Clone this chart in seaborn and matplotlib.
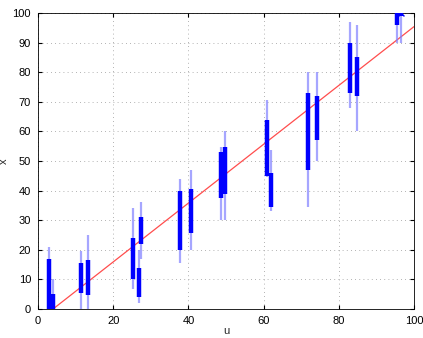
import matplotlib
matplotlib.use("Agg")
import matplotlib.pyplot as plt
import seaborn as sns
import pandas as pd

# ---- data ----
positions  = [3.0, 3.9, 11.4, 13.4, 25.2, 26.8, 27.3, 37.8, 40.6, 48.6, 49.7,
              60.8, 62.0, 71.8, 74.2, 83.0, 84.8, 95.6, 96.5]
whisker_lo = [0, 0, 0, 0, 6.8, 2, 17, 15.5, 20, 30, 30,
              44.6, 33, 34.5, 50, 68, 60, 90, 90]
whisker_hi = [21, 10, 19.6, 25, 34, 20, 36, 44, 47, 54.7, 60,
              70.6, 53.7, 80, 80, 97, 96, 100, 100]
box_lo     = [0, 0, 5.5, 4.7, 10, 4, 22, 20, 25.7, 37.5, 39,
              45, 34.5, 47, 57, 73, 72, 96, 99]
box_hi     = [17, 5, 15.5, 16.5, 24, 14, 31, 40, 40.5, 53, 54.7,
              64, 46, 73, 72, 90, 85, 100, 100]
outlier_u  = [96.5]
outlier_x  = [100]
line_u     = [4, 100]
line_x     = [0, 95.4]

sns.set_style("white")
plt.rcParams['font.family'] = ['Liberation Sans', 'DejaVu Sans']

fig = plt.figure(figsize=(4.23, 3.38), dpi=100)
ax = fig.add_axes([0.0898, 0.0858, 0.9787 - 0.0898, 0.9615 - 0.0858])

# red reference line
sns.lineplot(x=line_u, y=line_x, ax=ax, color=(1, 0.3, 0.3), lw=0.9, zorder=2)

# whiskers (light) and boxes (thick)
ax.vlines(positions, whisker_lo, whisker_hi, colors=(0.5, 0.5, 1.0), lw=1.6,
          alpha=0.7, zorder=3)
ax.vlines(positions, box_lo, box_hi, colors=(0, 0, 1), lw=3.2, zorder=4)
sns.scatterplot(x=outlier_u, y=outlier_x, ax=ax, marker='x', color=(0, 0, 1),
                s=18, linewidth=1, zorder=5)

ax.set_xlim(0, 100)
ax.set_ylim(0, 100)
ax.set_xticks(range(0, 101, 20))
ax.set_yticks(range(0, 101, 10))
ax.grid(True, linestyle=(0, (1, 4)), color='0.6', lw=0.6)
ax.tick_params(direction='in', length=3, labelsize=8, colors='black',
               top=True, right=True, bottom=True, left=True, pad=5)
for s in ax.spines.values():
    s.set_color('black')
    s.set_linewidth(0.6)
ax.set_xlabel('u', fontsize=8)
ax.set_ylabel('x', fontsize=8)
ax.xaxis.set_label_coords(0.5, -0.056)
ax.yaxis.set_label_coords(-0.078, 0.5)

fig.savefig("out.png", dpi=100)
